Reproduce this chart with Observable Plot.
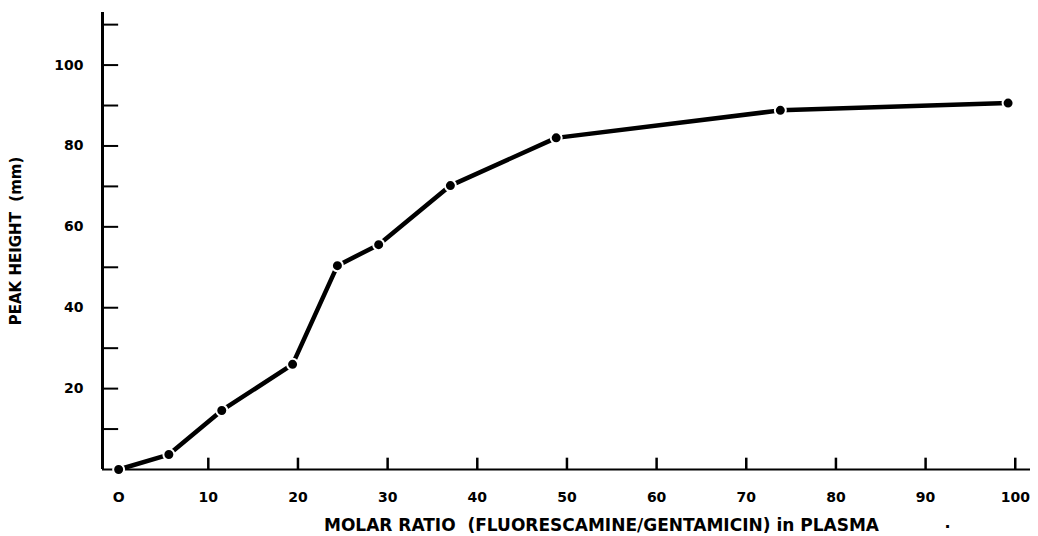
<!DOCTYPE html>
<html>
<head>
<meta charset="utf-8">
<script src="https://cdn.jsdelivr.net/npm/d3@7"></script>
<script src="https://cdn.jsdelivr.net/npm/@observablehq/plot@0.6"></script>
<style>
  html, body { margin: 0; padding: 0; background: #fff; }
  #chart svg { display: block; }
</style>
</head>
<body>
<div id="chart"></div>
<script>
// Data
const molarRatio = [0, 5.6, 11.5, 19.4, 24.4, 29, 37, 48.8, 73.8, 99.2];
const peakHeight = [0, 3.7, 14.6, 26, 50.4, 55.6, 70.2, 82, 88.8, 90.6];
const xTickValues = [0, 10, 20, 30, 40, 50, 60, 70, 80, 90, 100];
const yTickValues = [10, 20, 30, 40, 50, 60, 70, 80, 90, 100, 110];
const yLabelValues = [20, 40, 60, 80, 100];
const xDomain = [-1.8, 101.7];
const yDomain = [0, 113];
const xTitle = "MOLAR RATIO  (FLUORESCAMINE/GENTAMICIN) in PLASMA";
const yTitle = "PEAK HEIGHT  (mm)";

const data = molarRatio.map((x, i) => ({x, y: peakHeight[i]}));
const font = "'DejaVu Sans', sans-serif";

const chart = Plot.plot({
  width: 1038,
  height: 536,
  marginLeft: 102,
  marginRight: 8,
  marginTop: 12,
  marginBottom: 67,
  style: {fontFamily: font, background: "#fff", color: "#000"},
  x: {type: "linear", domain: xDomain, axis: null},
  y: {type: "linear", domain: yDomain, axis: null},
  marks: [
    // y axis line
    Plot.ruleX([xDomain[0]], {x: d => d, y1: yDomain[0], y2: yDomain[1], stroke: "#000", strokeWidth: 3}),
    // x axis line
    Plot.ruleY([0], {y: d => d, x1: xDomain[0], x2: xDomain[1], stroke: "#000", strokeWidth: 2}),
    // y ticks (inward)
    Plot.ruleY(yTickValues, {y: d => d, x1: xDomain[0], x2: 0, stroke: "#000", strokeWidth: 2}),
    // y tick labels
    Plot.text(yLabelValues, {y: d => d, x: xDomain[0], dx: -19, text: d => String(d), textAnchor: "end", fontSize: 14, fontWeight: "bold", fill: "#000"}),
    // x ticks (upward)
    Plot.ruleX(xTickValues.slice(1), {x: d => d, y1: 0, y2: 2.8, stroke: "#000", strokeWidth: 2.5}),
    // x tick labels
    Plot.text(xTickValues, {x: d => d, y: 0, dy: 28, text: d => (d === 0 ? "O" : String(d)), fontSize: 14, fontWeight: "bold", fill: "#000"}),
    // curve
    Plot.line(data, {x: "x", y: "y", stroke: "#000", strokeWidth: 4.5, strokeLinecap: "round"}),
    Plot.dot(data, {x: "x", y: "y", r: 5.5, fill: "#000", stroke: "#fff", strokeWidth: 2}),
    // axis titles
    Plot.text([xTitle], {frameAnchor: "bottom", dx: 35, dy: 61, text: d => d, fontSize: 17, fontWeight: "bold", fill: "#000"}),
    Plot.text(["."], {frameAnchor: "bottom-right", dx: -80, dy: 58, text: d => d, fontSize: 16, fontWeight: "bold", fill: "#000"}),
    Plot.text([yTitle], {frameAnchor: "left", dx: -86, rotate: -90, textAnchor: "middle", text: d => d, fontSize: 15, fontWeight: "bold", fill: "#000"})
  ]
});
document.getElementById("chart").appendChild(chart);
</script>
</body>
</html>
